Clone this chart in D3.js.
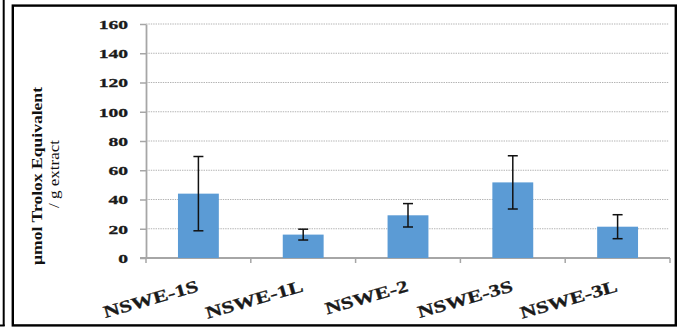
<!DOCTYPE html>
<html>
<head>
<meta charset="utf-8">
<script src="https://cdn.jsdelivr.net/npm/d3@7"></script>
<style>
  html, body { margin: 0; padding: 0; background: #fff; }
  svg { display: block; }
  text { font-family: "Liberation Serif", "Times New Roman", serif; }
</style>
</head>
<body>
<svg id="chart" width="677" height="329"></svg>
<script>
// Antioxidant capacity per extract (mean ± SD)
const categories = ["NSWE-1S", "NSWE-1L", "NSWE-2", "NSWE-3S", "NSWE-3L"];
const means = [44, 16, 29.2, 51.7, 21.4];
const errors = [25.4, 3.7, 8, 18.2, 8.2];
const yTicks = [0, 20, 40, 60, 80, 100, 120, 140, 160];
const titleLines = ["\u00b5mol Trolox Equivalent", "/ g extract"];

const svg = d3.select("#chart");
const plot = { left: 146, right: 670, top: 24, bottom: 258 };

// Frame lines
svg.append("line").attr("x1", 3.7).attr("x2", 3.7).attr("y1", 0).attr("y2", 326)
  .attr("stroke", "#000").attr("stroke-width", 2);
svg.append("line").attr("x1", 0).attr("x2", 4.7).attr("y1", 325.5).attr("y2", 325.5)
  .attr("stroke", "#000").attr("stroke-width", 2);
svg.append("rect").attr("x", 12.8).attr("y", 5.6).attr("width", 663).attr("height", 319.8)
  .attr("fill", "none").attr("stroke", "#000").attr("stroke-width", 2.4);

const x = d3.scaleBand().domain(categories).range([plot.left, plot.right])
  .paddingInner(0.61).paddingOuter(0.305);
const y = d3.scaleLinear().domain([0, 160]).range([plot.bottom, plot.top]);

// Dotted gridlines
svg.append("g").selectAll("line").data(yTicks.filter(d => d > 0)).join("line")
  .attr("x1", plot.left).attr("x2", 669)
  .attr("y1", d => y(d)).attr("y2", d => y(d))
  .attr("stroke", "#b3b3b3").attr("stroke-width", 1).attr("stroke-dasharray", "1.4,1");

// Y axis
const yAxis = svg.append("g").attr("transform", `translate(${plot.left},0)`)
  .call(d3.axisLeft(y).tickValues(yTicks).tickSize(6).tickPadding(12).tickSizeOuter(0));
yAxis.select(".domain").attr("stroke", "#a6a6a6").attr("stroke-width", 1.8);
yAxis.selectAll(".tick line").attr("stroke", "#a6a6a6").attr("stroke-width", 1.5);
yAxis.selectAll(".tick text")
  .attr("font-family", "Liberation Serif, serif").attr("font-weight", "bold")
  .attr("font-size", 13.5).attr("fill", "#1a1a1a")
  .attr("stroke", "#1a1a1a").attr("stroke-width", 0.3)
  .each(function () {
    const len = this.getComputedTextLength();
    d3.select(this).attr("textLength", len * 1.45).attr("lengthAdjust", "spacingAndGlyphs");
  });

// X axis line and category boundary ticks
svg.append("line").attr("x1", plot.left - 6).attr("x2", plot.right)
  .attr("y1", y(0)).attr("y2", y(0)).attr("stroke", "#a6a6a6").attr("stroke-width", 1.8);
const bounds = d3.range(categories.length + 1).map(i => plot.left + i * x.step());
svg.append("g").selectAll("line").data(bounds).join("line")
  .attr("x1", d => d).attr("x2", d => d).attr("y1", y(0)).attr("y2", y(0) + 5)
  .attr("stroke", "#a6a6a6").attr("stroke-width", 1.5);

// Bars
svg.append("g").selectAll("rect").data(categories).join("rect")
  .attr("x", d => x(d)).attr("width", x.bandwidth())
  .attr("y", (d, i) => y(means[i])).attr("height", (d, i) => y(0) - y(means[i]))
  .attr("fill", "#5b9bd5");

// Error bars
const eb = svg.append("g").attr("stroke", "#111").attr("stroke-width", 1.5);
categories.forEach((c, i) => {
  const cx = x(c) + x.bandwidth() / 2;
  const hi = y(means[i] + errors[i]), lo = y(means[i] - errors[i]);
  eb.append("line").attr("x1", cx).attr("x2", cx).attr("y1", hi).attr("y2", lo);
  eb.append("line").attr("x1", cx - 5).attr("x2", cx + 5).attr("y1", hi).attr("y2", hi);
  eb.append("line").attr("x1", cx - 5).attr("x2", cx + 5).attr("y1", lo).attr("y2", lo);
});

// Rotated category labels
svg.append("g").selectAll("text").data(categories).join("text")
  .attr("transform", d => `translate(${x(d) + x.bandwidth() / 2 + 1},291) rotate(-16)`)
  .attr("text-anchor", "end").attr("font-weight", "bold").attr("font-size", 17)
  .attr("fill", "#1a1a1a").attr("stroke", "#1a1a1a").attr("stroke-width", 0.3)
  .text(d => d)
  .each(function () {
    const len = this.getComputedTextLength();
    d3.select(this).attr("textLength", len * 1.33).attr("lengthAdjust", "spacingAndGlyphs");
  });

// Y axis title
svg.append("text").attr("transform", "translate(42,176) rotate(-90)")
  .attr("text-anchor", "middle").attr("font-weight", "bold").attr("font-size", 15.5)
  .attr("fill", "#111").attr("textLength", 178).attr("lengthAdjust", "spacingAndGlyphs")
  .text(titleLines[0]);
svg.append("text").attr("transform", "translate(59,174) rotate(-90)")
  .attr("text-anchor", "middle").attr("font-size", 15)
  .attr("fill", "#111").attr("textLength", 68).attr("lengthAdjust", "spacingAndGlyphs")
  .text(titleLines[1]);
</script>
</body>
</html>
